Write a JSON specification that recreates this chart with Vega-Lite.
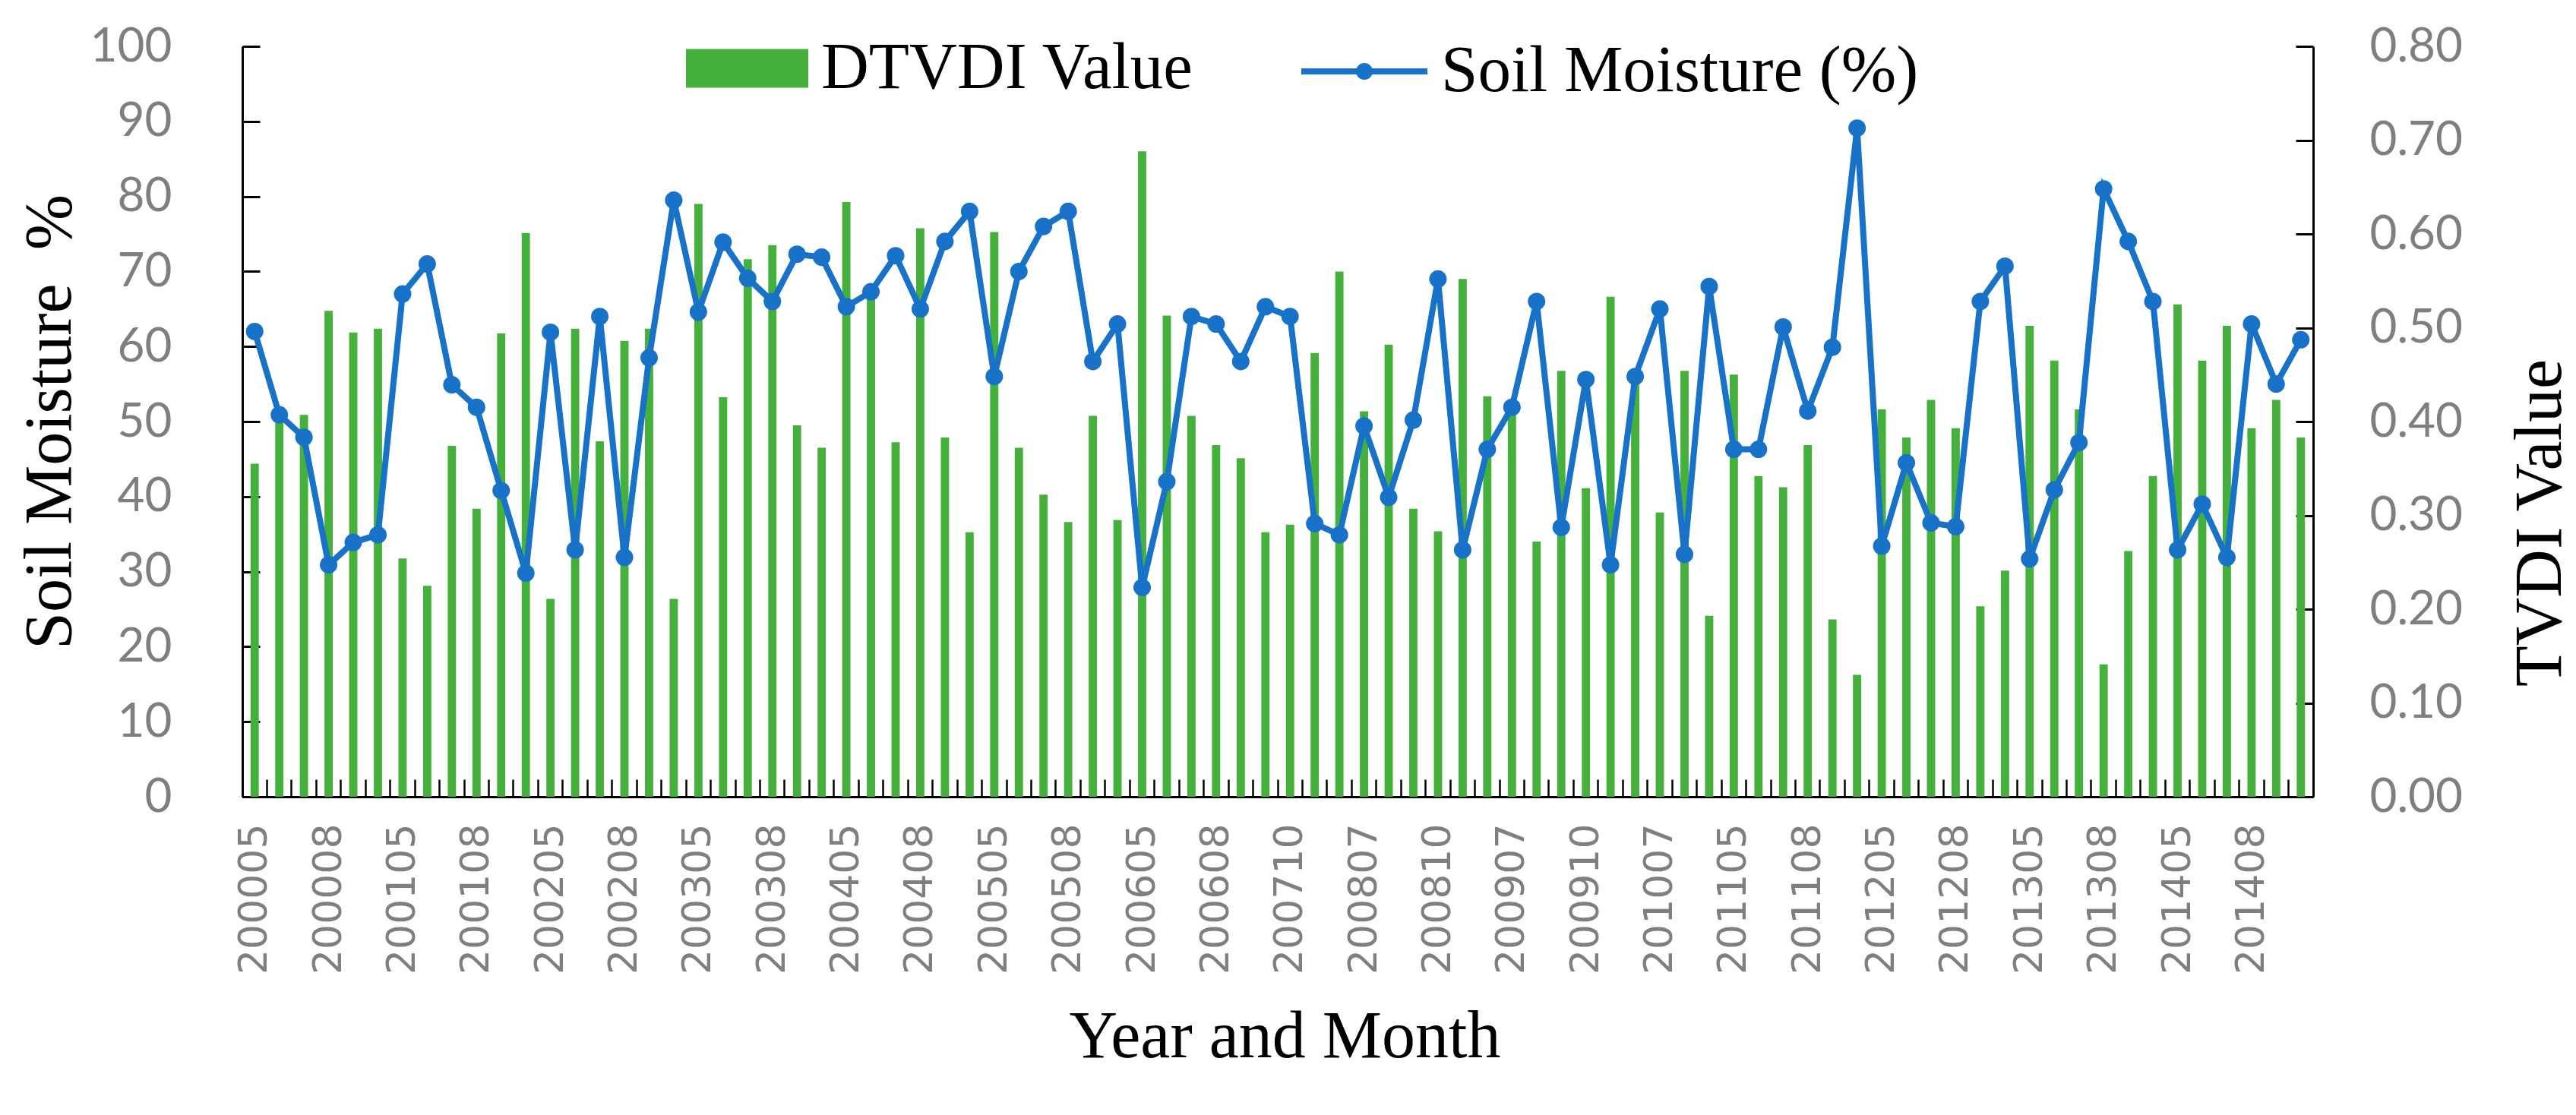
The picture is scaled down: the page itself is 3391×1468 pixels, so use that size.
{
  "$schema": "https://vega.github.io/schema/vega-lite/v6.json",
  "width": 2726,
  "height": 988,
  "autosize": "none",
  "padding": {"left": 319, "top": 61, "right": 346, "bottom": 419},
  "background": "white",
  "config": {"view": {"stroke": null}, "axis": {"grid": false}},
  "data": {
    "values": [
      {"ym": "200005", "sm": 62.0, "tvdi": 0.355},
      {"ym": "200006", "sm": 50.9, "tvdi": 0.404},
      {"ym": "200007", "sm": 47.9, "tvdi": 0.407},
      {"ym": "200008", "sm": 30.9, "tvdi": 0.518},
      {"ym": "200009", "sm": 33.9, "tvdi": 0.495},
      {"ym": "200010", "sm": 34.9, "tvdi": 0.499},
      {"ym": "200105", "sm": 67.0, "tvdi": 0.254},
      {"ym": "200106", "sm": 71.0, "tvdi": 0.225},
      {"ym": "200107", "sm": 54.9, "tvdi": 0.374},
      {"ym": "200108", "sm": 51.9, "tvdi": 0.307},
      {"ym": "200109", "sm": 40.8, "tvdi": 0.494},
      {"ym": "200110", "sm": 29.8, "tvdi": 0.601},
      {"ym": "200205", "sm": 61.9, "tvdi": 0.211},
      {"ym": "200206", "sm": 32.9, "tvdi": 0.499},
      {"ym": "200207", "sm": 64.0, "tvdi": 0.379},
      {"ym": "200208", "sm": 31.9, "tvdi": 0.486},
      {"ym": "200209", "sm": 58.5, "tvdi": 0.499},
      {"ym": "200210", "sm": 79.5, "tvdi": 0.211},
      {"ym": "200305", "sm": 64.6, "tvdi": 0.632},
      {"ym": "200306", "sm": 73.9, "tvdi": 0.426},
      {"ym": "200307", "sm": 69.1, "tvdi": 0.573},
      {"ym": "200308", "sm": 66.0, "tvdi": 0.588},
      {"ym": "200309", "sm": 72.3, "tvdi": 0.396},
      {"ym": "200310", "sm": 71.9, "tvdi": 0.372},
      {"ym": "200405", "sm": 65.3, "tvdi": 0.634},
      {"ym": "200406", "sm": 67.3, "tvdi": 0.532},
      {"ym": "200407", "sm": 72.1, "tvdi": 0.378},
      {"ym": "200408", "sm": 65.0, "tvdi": 0.606},
      {"ym": "200409", "sm": 74.0, "tvdi": 0.383},
      {"ym": "200410", "sm": 78.0, "tvdi": 0.282},
      {"ym": "200505", "sm": 56.0, "tvdi": 0.602},
      {"ym": "200506", "sm": 70.0, "tvdi": 0.372},
      {"ym": "200507", "sm": 76.0, "tvdi": 0.322},
      {"ym": "200508", "sm": 78.0, "tvdi": 0.293},
      {"ym": "200509", "sm": 58.0, "tvdi": 0.406},
      {"ym": "200510", "sm": 63.0, "tvdi": 0.295},
      {"ym": "200605", "sm": 27.9, "tvdi": 0.688},
      {"ym": "200606", "sm": 42.0, "tvdi": 0.513},
      {"ym": "200607", "sm": 64.0, "tvdi": 0.406},
      {"ym": "200608", "sm": 63.0, "tvdi": 0.375},
      {"ym": "200609", "sm": 58.0, "tvdi": 0.361},
      {"ym": "200610", "sm": 65.3, "tvdi": 0.282},
      {"ym": "200710", "sm": 64.0, "tvdi": 0.290},
      {"ym": "200805", "sm": 36.4, "tvdi": 0.473},
      {"ym": "200806", "sm": 34.9, "tvdi": 0.560},
      {"ym": "200807", "sm": 49.4, "tvdi": 0.411},
      {"ym": "200808", "sm": 39.9, "tvdi": 0.482},
      {"ym": "200809", "sm": 50.2, "tvdi": 0.307},
      {"ym": "200810", "sm": 69.0, "tvdi": 0.283},
      {"ym": "200905", "sm": 32.9, "tvdi": 0.552},
      {"ym": "200906", "sm": 46.3, "tvdi": 0.427},
      {"ym": "200907", "sm": 51.9, "tvdi": 0.416},
      {"ym": "200908", "sm": 66.0, "tvdi": 0.272},
      {"ym": "200909", "sm": 35.9, "tvdi": 0.454},
      {"ym": "200910", "sm": 55.6, "tvdi": 0.329},
      {"ym": "201005", "sm": 30.9, "tvdi": 0.533},
      {"ym": "201006", "sm": 56.0, "tvdi": 0.440},
      {"ym": "201007", "sm": 65.0, "tvdi": 0.303},
      {"ym": "201008", "sm": 32.3, "tvdi": 0.454},
      {"ym": "201009", "sm": 68.0, "tvdi": 0.193},
      {"ym": "201105", "sm": 46.3, "tvdi": 0.450},
      {"ym": "201106", "sm": 46.3, "tvdi": 0.342},
      {"ym": "201107", "sm": 62.6, "tvdi": 0.330},
      {"ym": "201108", "sm": 51.4, "tvdi": 0.375},
      {"ym": "201109", "sm": 59.9, "tvdi": 0.189},
      {"ym": "201110", "sm": 89.1, "tvdi": 0.130},
      {"ym": "201205", "sm": 33.4, "tvdi": 0.413},
      {"ym": "201206", "sm": 44.5, "tvdi": 0.383},
      {"ym": "201207", "sm": 36.5, "tvdi": 0.423},
      {"ym": "201208", "sm": 36.0, "tvdi": 0.393},
      {"ym": "201209", "sm": 66.0, "tvdi": 0.203},
      {"ym": "201210", "sm": 70.7, "tvdi": 0.241},
      {"ym": "201305", "sm": 31.7, "tvdi": 0.502},
      {"ym": "201306", "sm": 40.9, "tvdi": 0.465},
      {"ym": "201307", "sm": 47.2, "tvdi": 0.413},
      {"ym": "201308", "sm": 81.0, "tvdi": 0.141},
      {"ym": "201309", "sm": 74.0, "tvdi": 0.262},
      {"ym": "201310", "sm": 66.0, "tvdi": 0.342},
      {"ym": "201405", "sm": 32.9, "tvdi": 0.525},
      {"ym": "201406", "sm": 39.0, "tvdi": 0.465},
      {"ym": "201407", "sm": 31.9, "tvdi": 0.502},
      {"ym": "201408", "sm": 63.0, "tvdi": 0.393},
      {"ym": "201409", "sm": 55.0, "tvdi": 0.423},
      {"ym": "201410", "sm": 60.9, "tvdi": 0.383}
    ]
  },
  "encoding": {
    "x": {
      "field": "ym",
      "type": "ordinal",
      "sort": null,
      "scale": {"paddingInner": 0, "paddingOuter": 0},
      "axis": {
        "orient": "bottom",
        "title": "Year and Month",
        "bandPosition": 0,
        "domainColor": "black",
        "domainWidth": 3,
        "tickColor": "black",
        "tickWidth": 2.5,
        "tickSize": -23,
        "labelAngle": 270,
        "labelFont": "DejaVu Sans",
        "labelFontSize": 52,
        "labelColor": "#7f7f7f",
        "labelPadding": 58,
        "labelLimit": 0,
        "labelOverlap": false,
        "labelExpr": "indexof(['200005','200008','200105','200108','200205','200208','200305','200308','200405','200408','200505','200508','200605','200608','200710','200807','200810','200907','200910','201007','201105','201108','201205','201208','201305','201308','201405','201408'], datum.label) >= 0 ? datum.label : ''",
        "titleFont": "Liberation Serif",
        "titleFontSize": 88,
        "titleFontWeight": "normal",
        "titleColor": "black",
        "titleX": 1372,
        "titleY": 342,
        "titleAlign": "center",
        "titleBaseline": "alphabetic"
      }
    }
  },
  "layer": [
    {
      "mark": {"type": "bar", "width": {"band": 0.335}},
      "encoding": {
        "y": {
          "field": "tvdi",
          "type": "quantitative",
          "scale": {"domain": [0, 0.8]},
          "axis": {
            "orient": "right",
            "title": "TVDI Value",
            "values": [0, 0.1, 0.2, 0.3, 0.4, 0.5, 0.6, 0.7, 0.8],
            "format": ".2f",
            "domainColor": "black",
            "domainWidth": 3,
            "tickColor": "black",
            "tickWidth": 3,
            "tickSize": -23,
            "labelFont": "Lato",
            "labelFontSize": 62,
            "labelColor": "#7f7f7f",
            "labelPadding": 97,
            "titleFont": "Liberation Serif",
            "titleFontSize": 88,
            "titleFontWeight": "normal",
            "titleColor": "black",
            "titleAngle": 270,
            "titleX": 325,
            "titleY": 627,
            "titleAlign": "center",
            "titleBaseline": "alphabetic"
          }
        },
        "fill": {
          "datum": "DTVDI Value",
          "scale": {"range": ["#46b03c"]},
          "legend": {
            "title": null,
            "orient": "none",
            "legendX": 584,
            "legendY": -51.5,
            "padding": 0,
            "symbolType": "M-1,-0.317H1V0.317H-1Z",
            "symbolSize": 25921,
            "symbolStrokeWidth": 0,
            "labelFont": "Liberation Serif",
            "labelFontSize": 87,
            "labelColor": "black",
            "labelOffset": 17,
            "labelLimit": 0
          }
        }
      }
    },
    {
      "encoding": {
        "y": {
          "field": "sm",
          "type": "quantitative",
          "scale": {"domain": [0, 100]},
          "axis": {
            "orient": "left",
            "title": "Soil Moisture \u00a0%",
            "values": [0, 10, 20, 30, 40, 50, 60, 70, 80, 90, 100],
            "domainColor": "black",
            "domainWidth": 3,
            "tickColor": "black",
            "tickWidth": 3,
            "tickSize": -23,
            "labelFont": "Lato",
            "labelFontSize": 62,
            "labelColor": "#7f7f7f",
            "labelPadding": 116,
            "titleFont": "Liberation Serif",
            "titleFontSize": 88,
            "titleFontWeight": "normal",
            "titleColor": "black",
            "titleAngle": 270,
            "titleX": -227,
            "titleY": 494,
            "titleAlign": "center",
            "titleBaseline": "alphabetic"
          }
        }
      },
      "layer": [
        {
          "mark": {"type": "line", "strokeWidth": 8},
          "encoding": {
            "stroke": {
              "datum": "Soil Moisture (%)",
              "scale": {"range": ["#1872c8"]},
              "legend": {
                "title": null,
                "orient": "none",
                "legendX": 1390,
                "legendY": -54,
                "padding": 0,
                "symbolType": "M-1,0H1M0.085,0A0.085,0.085,0,1,1,-0.085,0A0.085,0.085,0,1,1,0.085,0M0.035,0A0.035,0.035,0,1,1,-0.035,0A0.035,0.035,0,1,1,0.035,0",
                "symbolSize": 27556,
                "symbolStrokeWidth": 8,
                "symbolFillColor": "#1872c8",
                "labelFont": "Liberation Serif",
                "labelFontSize": 87,
                "labelColor": "black",
                "labelOffset": 14,
                "labelLimit": 0
              }
            }
          }
        },
        {
          "mark": {"type": "point", "filled": true, "size": 530, "color": "#1872c8", "opacity": 1}
        }
      ]
    }
  ],
  "resolve": {"scale": {"y": "independent"}}
}
